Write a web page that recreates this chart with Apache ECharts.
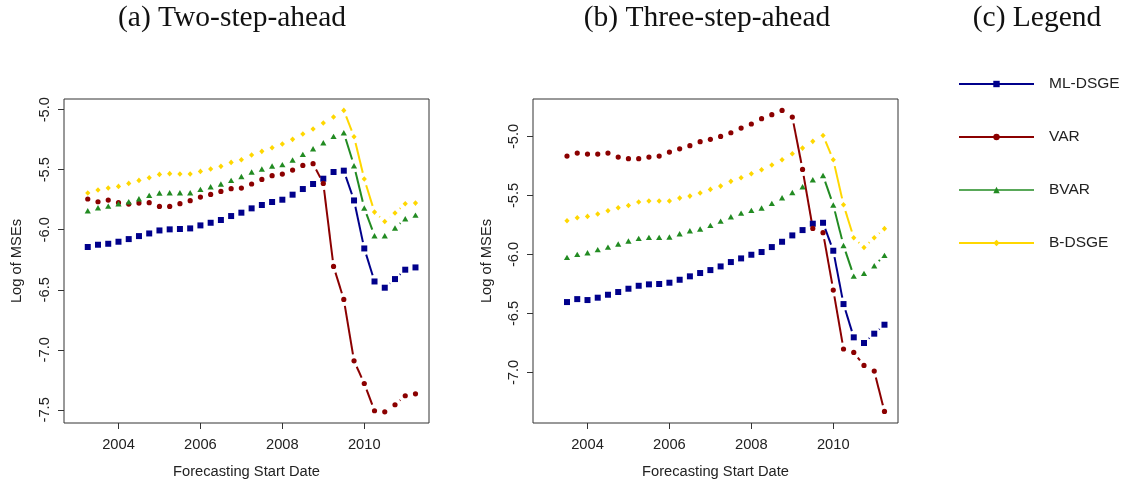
<!DOCTYPE html>
<html>
<head>
<meta charset="utf-8">
<script src="https://cdn.jsdelivr.net/npm/echarts@6/dist/echarts.min.js"></script>
<style>
  html, body { margin: 0; padding: 0; background: #fff; }
  #chart { width: 1124px; height: 485px; }
</style>
</head>
<body>
<div id="chart"></div>
<script>
// Forecast start dates (quarterly, decimal years)
const datesA = [2003.25, 2003.5, 2003.75, 2004, 2004.25, 2004.5, 2004.75, 2005, 2005.25, 2005.5, 2005.75,
  2006, 2006.25, 2006.5, 2006.75, 2007, 2007.25, 2007.5, 2007.75, 2008, 2008.25, 2008.5, 2008.75,
  2009, 2009.25, 2009.5, 2009.75, 2010, 2010.25, 2010.5, 2010.75, 2011, 2011.25];
const datesB = [2003.5, 2003.75, 2004, 2004.25, 2004.5, 2004.75, 2005, 2005.25, 2005.5, 2005.75,
  2006, 2006.25, 2006.5, 2006.75, 2007, 2007.25, 2007.5, 2007.75, 2008, 2008.25, 2008.5, 2008.75,
  2009, 2009.25, 2009.5, 2009.75, 2010, 2010.25, 2010.5, 2010.75, 2011, 2011.25];

// (a) Two-step-ahead: log of MSEs
const mlDsgeA = [-6.144, -6.125, -6.117, -6.100, -6.078, -6.053, -6.031, -6.006, -5.997, -5.994, -5.989,
  -5.964, -5.942, -5.919, -5.886, -5.858, -5.822, -5.794, -5.769, -5.750, -5.708, -5.661, -5.619,
  -5.575, -5.519, -5.508, -5.756, -6.156, -6.431, -6.483, -6.411, -6.333, -6.314];
const varA = [-5.744, -5.767, -5.753, -5.775, -5.786, -5.778, -5.775, -5.806, -5.806, -5.783, -5.758,
  -5.728, -5.706, -5.681, -5.658, -5.653, -5.619, -5.581, -5.550, -5.536, -5.503, -5.464, -5.450,
  -5.614, -6.306, -6.581, -7.092, -7.281, -7.508, -7.517, -7.458, -7.383, -7.367];
const bvarA = [-5.842, -5.817, -5.803, -5.783, -5.767, -5.742, -5.714, -5.694, -5.692, -5.692, -5.692,
  -5.664, -5.642, -5.619, -5.589, -5.556, -5.519, -5.494, -5.469, -5.458, -5.419, -5.372, -5.325,
  -5.275, -5.222, -5.192, -5.467, -5.819, -6.050, -6.050, -5.986, -5.908, -5.878];
const bDsgeA = [-5.694, -5.669, -5.653, -5.639, -5.614, -5.589, -5.567, -5.539, -5.533, -5.536, -5.536,
  -5.514, -5.494, -5.472, -5.439, -5.417, -5.378, -5.347, -5.317, -5.286, -5.247, -5.203, -5.161,
  -5.111, -5.061, -5.006, -5.225, -5.578, -5.853, -5.931, -5.861, -5.783, -5.778];

// (b) Three-step-ahead: log of MSEs
const mlDsgeB = [-6.404, -6.379, -6.387, -6.367, -6.342, -6.319, -6.291, -6.266, -6.254, -6.251,
  -6.240, -6.215, -6.186, -6.158, -6.133, -6.102, -6.065, -6.034, -6.003, -5.980, -5.938, -5.893,
  -5.839, -5.794, -5.740, -5.732, -5.969, -6.421, -6.703, -6.751, -6.672, -6.596];
const varB = [-5.167, -5.141, -5.150, -5.150, -5.141, -5.175, -5.189, -5.189, -5.175, -5.167,
  -5.133, -5.105, -5.079, -5.045, -5.025, -5.000, -4.969, -4.929, -4.895, -4.850, -4.816, -4.780,
  -4.836, -5.280, -5.780, -5.816, -6.302, -6.802, -6.831, -6.941, -6.989, -7.331];
const bvarB = [-6.025, -6.000, -5.986, -5.960, -5.938, -5.912, -5.887, -5.864, -5.856, -5.856,
  -5.853, -5.825, -5.799, -5.785, -5.754, -5.718, -5.681, -5.650, -5.627, -5.607, -5.568, -5.520,
  -5.475, -5.427, -5.367, -5.331, -5.582, -5.924, -6.184, -6.161, -6.096, -6.008];
const bDsgeB = [-5.715, -5.689, -5.678, -5.658, -5.630, -5.605, -5.585, -5.556, -5.548, -5.548,
  -5.548, -5.523, -5.506, -5.480, -5.449, -5.421, -5.381, -5.350, -5.316, -5.282, -5.243, -5.198,
  -5.147, -5.099, -5.042, -4.992, -5.198, -5.579, -5.859, -5.941, -5.859, -5.782];

// Axis ticks
const xTicks = [2004, 2006, 2008, 2010];
const yTicksA = [-7.5, -7.0, -6.5, -6.0, -5.5, -5.0];
const yTicksB = [-7.0, -6.5, -6.0, -5.5, -5.0];

const titles = ['(a) Two-step-ahead', '(b) Three-step-ahead', '(c) Legend'];
const modelNames = ['ML-DSGE', 'VAR', 'BVAR', 'B-DSGE'];

const COLORS = { 'ML-DSGE': '#00008B', 'VAR': '#8B0000', 'BVAR': '#228B22', 'B-DSGE': '#FFD700' };
const SYMBOLS = {
  'ML-DSGE': { symbol: 'rect', size: 6 },
  'VAR': { symbol: 'circle', size: 5.2 },
  'BVAR': { symbol: 'triangle', size: [6.2, 5.4] },
  'B-DSGE': { symbol: 'diamond', size: [5.2, 5.6] }
};
const GAP = 6.5;           // blank space left around each point, in px
const SANS = 'Liberation Sans, Arial, sans-serif';
const INK = '#222';

const chart = echarts.init(document.getElementById('chart'), null, { renderer: 'canvas' });

function pairs(xs, ys) { return xs.map((x, i) => [x, ys[i]]); }
function segments(xs, ys) {
  const out = [];
  for (let i = 0; i + 1 < xs.length; i++) out.push([xs[i], ys[i], xs[i + 1], ys[i + 1]]);
  return out;
}

// Line pieces between consecutive points, trimmed so that a gap remains around each marker
function gappedRender(color) {
  return function (params, api) {
    const a = api.coord([api.value(0), api.value(1)]);
    const b = api.coord([api.value(2), api.value(3)]);
    const dx = b[0] - a[0], dy = b[1] - a[1];
    const len = Math.sqrt(dx * dx + dy * dy);
    if (len <= 2 * GAP) return null;
    const ux = dx / len, uy = dy / len;
    return {
      type: 'line',
      shape: { x1: a[0] + ux * GAP, y1: a[1] + uy * GAP, x2: b[0] - ux * GAP, y2: b[1] - uy * GAP },
      style: { stroke: color, lineWidth: 2 }
    };
  };
}

const panels = [
  { xs: datesA, values: { 'ML-DSGE': mlDsgeA, 'VAR': varA, 'BVAR': bvarA, 'B-DSGE': bDsgeA } },
  { xs: datesB, values: { 'ML-DSGE': mlDsgeB, 'VAR': varB, 'BVAR': bvarB, 'B-DSGE': bDsgeB } }
];

const series = [];
// point series first, so the legend takes its icons from them
panels.forEach((p, k) => {
  modelNames.forEach(name => {
    series.push({
      type: 'line', name: name, xAxisIndex: k, yAxisIndex: k,
      data: pairs(p.xs, p.values[name]),
      symbol: SYMBOLS[name].symbol, symbolSize: SYMBOLS[name].size, showSymbol: true,
      itemStyle: { color: COLORS[name] },
      lineStyle: { width: 0, color: COLORS[name] },
      emphasis: { disabled: true }, silent: true, clip: false, z: 3
    });
  });
});
panels.forEach((p, k) => {
  modelNames.forEach(name => {
    series.push({
      type: 'custom', name: name + ' lines', xAxisIndex: k, yAxisIndex: k,
      data: segments(p.xs, p.values[name]),
      encode: { x: [0, 2], y: [1, 3] },
      renderItem: gappedRender(COLORS[name]),
      silent: true, clip: false, z: 2
    });
  });
});

function xAxis(gridIndex) {
  return {
    type: 'value', gridIndex: gridIndex, min: 2002.67, max: 2011.58,
    axisLine: { show: false }, splitLine: { show: false },
    axisTick: { show: true, length: 6, customValues: xTicks, lineStyle: { color: '#333', width: 1 } },
    axisLabel: { customValues: xTicks, fontSize: 14.7, fontFamily: SANS, color: INK, margin: 14,
      formatter: v => String(Math.round(v)) },
    name: 'Forecasting Start Date', nameLocation: 'middle', nameGap: 41,
    nameTextStyle: { fontSize: 14.7, fontFamily: SANS, color: INK }
  };
}
function yAxis(gridIndex, min, max, ticks, labelMargin, nameGap) {
  return {
    type: 'value', gridIndex: gridIndex, min: min, max: max,
    axisLine: { show: false }, splitLine: { show: false },
    axisTick: { show: true, length: 6, customValues: ticks, lineStyle: { color: '#333', width: 1 } },
    axisLabel: { customValues: ticks, rotate: 90, fontSize: 14.7, fontFamily: SANS, color: INK,
      margin: labelMargin, formatter: v => v.toFixed(1) },
    name: 'Log of MSEs', nameLocation: 'middle', nameGap: nameGap,
    nameTextStyle: { fontSize: 14.7, fontFamily: SANS, color: INK }
  };
}

const titleCenters = [232, 707, 1037];

chart.setOption({
  animation: false,
  backgroundColor: '#fff',
  title: titles.map((t, i) => ({
    text: t, left: titleCenters[i], top: 3, padding: 0, textAlign: 'center',
    textStyle: { fontFamily: 'Liberation Serif, serif', fontSize: 29.5, fontWeight: 'normal', color: '#111' }
  })),
  grid: [
    { left: 64, top: 99, width: 365, height: 324, show: true, borderColor: '#333', borderWidth: 1, backgroundColor: 'transparent' },
    { left: 533, top: 99, width: 365, height: 324, show: true, borderColor: '#333', borderWidth: 1, backgroundColor: 'transparent' }
  ],
  xAxis: [xAxis(0), xAxis(1)],
  yAxis: [yAxis(0, -7.61, -4.911, yTicksA, 12, 40), yAxis(1, -7.429, -4.683, yTicksB, 12, 39)],
  legend: {
    orient: 'vertical', left: 958, top: 76, padding: 0,
    itemWidth: 75, itemHeight: 8, itemGap: 37,
    selectedMode: false,
    textStyle: { fontSize: 15.5, fontFamily: SANS, color: INK, lineHeight: 16, padding: [0, 0, 0, 10] },
    data: modelNames.map(name => ({
      name: name,
      lineStyle: { width: name === 'BVAR' ? 1.3 : 2, color: COLORS[name], opacity: 1 }
    }))
  },
  series: series
});
</script>
</body>
</html>
